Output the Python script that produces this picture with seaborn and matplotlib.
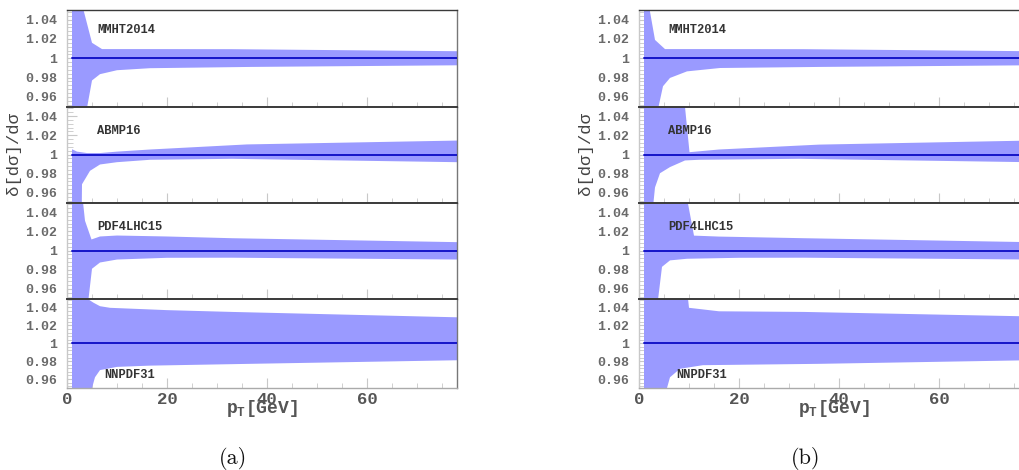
import numpy as np
import matplotlib
matplotlib.use("Agg")
import matplotlib.pyplot as plt
import seaborn as sns
from matplotlib.ticker import FixedLocator, FixedFormatter, MultipleLocator

# PDF sets, one strip each
pdf_sets = ["MMHT2014", "ABMP16", "PDF4LHC15", "NNPDF31"]

# ---- panel (a): upper / lower edges of the relative uncertainty band ----
mmht_a_xu = [1, 2.8, 5.0, 7.0, 15, 33, 78]
mmht_a_up = [1.08, 1.06, 1.016, 1.0095, 1.0095, 1.0094, 1.0073]
mmht_a_xl = [1, 3.7, 5.0, 6.6, 10, 16.6, 36.6, 78]
mmht_a_lo = [0.92, 0.94, 0.977, 0.9835, 0.9876, 0.9897, 0.991, 0.9927]

abmp_a_xu = [1, 2, 4, 6.6, 10, 16.6, 36, 78]
abmp_a_up = [1.0055, 1.003, 1.0015, 1.0015, 1.003, 1.0052, 1.0105, 1.0145]
abmp_a_xl = [1, 2.9, 3.0, 4.6, 6.6, 10, 16.6, 33, 78]
abmp_a_lo = [0.92, 0.92, 0.969, 0.983, 0.9896, 0.992, 0.9945, 0.9955, 0.992]

pdf4_a_xu = [1, 3.0, 3.6, 4.9, 6.6, 10, 20, 33, 78]
pdf4_a_up = [1.08, 1.06, 1.031, 1.0115, 1.0146, 1.0156, 1.0146, 1.0128, 1.0087]
pdf4_a_xl = [1, 4.2, 5.0, 6.6, 10, 20, 33, 78]
pdf4_a_lo = [0.92, 0.945, 0.981, 0.9875, 0.9906, 0.9924, 0.9925, 0.9906]

nnpdf_a_xu = [1, 4.0, 5.3, 6.6, 8.6, 20, 33, 78]
nnpdf_a_up = [1.08, 1.05, 1.0453, 1.0414, 1.0396, 1.037, 1.035, 1.029]
nnpdf_a_xl = [1, 5.0, 5.6, 6.6, 10, 16.6, 36.6, 78]
nnpdf_a_lo = [0.92, 0.95, 0.962, 0.970, 0.9736, 0.975, 0.977, 0.981]

# ---- panel (b) ----
mmht_b_xu = [1, 1.8, 3.2, 5.2, 15, 33, 78]
mmht_b_up = [1.08, 1.06, 1.019, 1.0095, 1.0095, 1.0094, 1.0073]
mmht_b_xl = [1, 3.5, 4.8, 6.2, 9.6, 16.2, 36, 78]
mmht_b_lo = [0.92, 0.94, 0.971, 0.9796, 0.9864, 0.9899, 0.991, 0.9927]

abmp_b_xu = [1, 9.0, 10.1, 16, 36, 78]
abmp_b_up = [1.08, 1.06, 1.0024, 1.0052, 1.0103, 1.0145]
abmp_b_xl = [1, 2.7, 3.2, 4.2, 6.2, 9.2, 12, 32, 78]
abmp_b_lo = [0.92, 0.94, 0.9657, 0.9805, 0.9869, 0.9938, 0.9945, 0.9955, 0.992]

pdf4_b_xu = [1, 9.4, 11, 16, 33, 78]
pdf4_b_up = [1.08, 1.06, 1.0155, 1.0145, 1.0128, 1.0087]
pdf4_b_xl = [1, 3.6, 4.6, 6.2, 9.6, 20, 33, 78]
pdf4_b_lo = [0.92, 0.94, 0.983, 0.9897, 0.9914, 0.9924, 0.9925, 0.9906]

nnpdf_b_xu = [1, 9.6, 10.0, 16, 33, 78]
nnpdf_b_up = [1.08, 1.06, 1.0396, 1.0357, 1.035, 1.030]
nnpdf_b_xl = [1, 5.6, 6.2, 8.2, 12.8, 36, 78]
nnpdf_b_lo = [0.92, 0.95, 0.962, 0.9715, 0.9755, 0.977, 0.981]

# central value (ratio to itself)
central_x = [1, 78]
central_y = [1.0, 1.0]

# axis ticks
y_ticks = [0.96, 0.98, 1.0, 1.02, 1.04]
y_tick_labels = ["0.96", "0.98", "1", "1.02", "1.04"]
x_ticks = [0, 20, 40, 60]
x_tick_labels = ["0", "20", "40", "60"]
captions = ["(a)", "(b)"]

bands = {
    "a": [
        (mmht_a_xu, mmht_a_up, mmht_a_xl, mmht_a_lo),
        (abmp_a_xu, abmp_a_up, abmp_a_xl, abmp_a_lo),
        (pdf4_a_xu, pdf4_a_up, pdf4_a_xl, pdf4_a_lo),
        (nnpdf_a_xu, nnpdf_a_up, nnpdf_a_xl, nnpdf_a_lo),
    ],
    "b": [
        (mmht_b_xu, mmht_b_up, mmht_b_xl, mmht_b_lo),
        (abmp_b_xu, abmp_b_up, abmp_b_xl, abmp_b_lo),
        (pdf4_b_xu, pdf4_b_up, pdf4_b_xl, pdf4_b_lo),
        (nnpdf_b_xu, nnpdf_b_up, nnpdf_b_xl, nnpdf_b_lo),
    ],
}

sns.set_style("white")
plt.rcParams["font.family"] = ["Liberation Mono", "DejaVu Sans"]
plt.rcParams["mathtext.fontset"] = "custom"
plt.rcParams["mathtext.bf"] = "Liberation Mono:bold"
plt.rcParams["mathtext.rm"] = "Liberation Mono"

W, H = 1019, 470
fig = plt.figure(figsize=(W / 100, H / 100), dpi=100)

FILL = "#9a9aff"
LINE = "#1515c8"
TICK_GRAY = "#c8c8c8"

# strip boundaries in pixels (top, bottom)
strip_px = [(10, 106.5), (106.5, 202.5), (202.5, 298.5), (298.5, 388)]
panel_left_px = {"a": 67, "b": 639}
panel_width_px = 390

# label anchor positions (data coords)
label_pos = {
    "a": [(6.0, 1.0294), (6.0, 1.0245), (6.0, 1.0242), (7.4, 0.9645)],
    "b": [(5.8, 1.0294), (5.8, 1.0245), (5.8, 1.0242), (7.4, 0.9645)],
}

for key, cap in zip(["a", "b"], captions):
    lpx = panel_left_px[key]
    for i, (name, (xu, up, xl, lo)) in enumerate(zip(pdf_sets, bands[key])):
        top, bot = strip_px[i]
        ax = fig.add_axes([lpx / W, 1 - bot / H, panel_width_px / W, (bot - top) / H])
        ax.set_facecolor("white")
        # band polygon: upper edge forward, lower edge back
        px = np.concatenate([xu, xl[::-1]])
        py = np.concatenate([up, lo[::-1]])
        ax.fill(px, py, color=FILL, lw=0, zorder=1)
        sns.lineplot(x=central_x, y=central_y, ax=ax, color=LINE, lw=1.4, zorder=3)
        ax.set_xlim(0, 78)
        ax.set_ylim(0.95, 1.05)

        ax.text(*label_pos[key][i], name, fontsize=8.7, fontweight="bold",
                color="#333333", va="center", ha="left", zorder=4)

        for s in ax.spines.values():
            s.set_linewidth(1.0)
        ax.spines["left"].set_color("#c8c8c8")
        ax.spines["right"].set_color("#777777")
        ax.spines["bottom"].set_color("#aaaaaa")
        ax.spines["top"].set_color("#3a3a3a")
        ax.spines["top"].set_linewidth(1.4 if i > 0 else 1.0)
        ax.spines["top"].set_zorder(5)

        ax.yaxis.set_major_locator(FixedLocator(y_ticks))
        ax.yaxis.set_major_formatter(FixedFormatter(y_tick_labels))
        ax.yaxis.set_minor_locator(MultipleLocator(0.004))
        ax.xaxis.set_major_locator(FixedLocator(x_ticks))
        ax.xaxis.set_major_formatter(FixedFormatter(x_tick_labels))
        ax.xaxis.set_minor_locator(MultipleLocator(5))
        ax.tick_params(axis="y", which="major", direction="in", length=7, width=0.8,
                       color=TICK_GRAY, labelsize=9.5, labelcolor="#6a6a6a", pad=7,
                       left=True, right=False)
        ax.tick_params(axis="y", which="minor", direction="in", length=4, width=0.6,
                       color=TICK_GRAY, left=True, right=False)
        ax.tick_params(axis="x", which="major", direction="in", length=7, width=0.8,
                       color=TICK_GRAY, labelsize=12.5, labelcolor="#555555", pad=3,
                       bottom=True, top=False, labelbottom=(i == 3))
        ax.tick_params(axis="x", which="minor", direction="in", length=3.5, width=0.6,
                       color=TICK_GRAY, bottom=True, top=False)
        for lab in ax.get_yticklabels() + ax.get_xticklabels():
            lab.set_fontweight("bold")
        ax.set_xlabel("")
        ax.set_ylabel("")
        ax.grid(False)

        if i == 3:
            ax.text(0.5, -0.225, r"$\mathbf{p}_{\mathbf{T}}$[GeV]", transform=ax.transAxes,
                    ha="center", va="center", fontsize=13, fontweight="bold",
                    color="#555555", zorder=6)

    # shared y label and caption
    ylab_x = {"a": 14, "b": 585}[key]
    fig.text(ylab_x / W, 1 - 154 / H, "δ[dσ]/dσ", rotation=90, ha="center",
             va="center", fontsize=12.5, color="#444444")
    cap_x = {"a": 233, "b": 806}[key]
    fig.text(cap_x / W, 1 - 458 / H, cap, ha="center", va="center",
             fontsize=16, family="cmr10", color="#111111")

fig.savefig("out.png", dpi=100)
